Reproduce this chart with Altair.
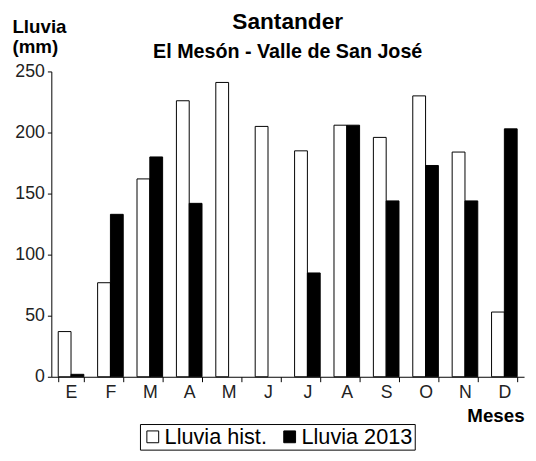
import altair as alt
import pandas as pd

month_labels = ["E", "F", "M", "A", "M", "J", "J", "A", "S", "O", "N", "D"]
series_names = ["Lluvia hist.", "Lluvia 2013"]
lluvia_hist = [37, 77, 162, 226, 241, 205, 185, 206, 196, 230, 184, 53]
lluvia_2013 = [2, 133, 180, 142, None, None, 85, 206, 144, 173, 144, 203]
y_ticks = [0, 50, 100, 150, 200, 250]

rows = []
for i in range(12):
    rows.append({"mes": i + 1, "serie": series_names[0], "valor": lluvia_hist[i]})
    rows.append({"mes": i + 1, "serie": series_names[1], "valor": lluvia_2013[i]})
df = pd.DataFrame(rows)
df = df.dropna()

label_expr = "[" + ",".join("'" + m + "'" for m in month_labels) + "][datum.value - 1]"

FONT = "Liberation Sans"

chart = alt.Chart(df).mark_bar(stroke="black", strokeWidth=1).encode(
    x=alt.X(
        "mes:O",
        scale=alt.Scale(paddingInner=0.35, paddingOuter=0.175),
        axis=alt.Axis(
            title="Meses",
            labelExpr=label_expr,
            labelAngle=0,
            tickBand="extent",
            tickSize=5,
            labelPadding=2,
            labelFontSize=18,
            titleFontSize=19,
            titleFontWeight="bold",
            titleAnchor="end",
            titleAlign="right",
            titleBaseline="alphabetic",
            titleX=480,
            titleY=45,
        ),
    ),
    xOffset=alt.XOffset("serie:N", sort=series_names, scale=alt.Scale(domain=series_names)),
    y=alt.Y(
        "valor:Q",
        scale=alt.Scale(domain=[0, 250], nice=False),
        axis=alt.Axis(
            values=y_ticks,
            title=["Lluvia", "(mm)"],
            titleAngle=0,
            titleAlign="left",
            titleBaseline="alphabetic",
            titleX=-40,
            titleY=-40,
            titleLineHeight=21,
            titleFontSize=19,
            titleFontWeight="bold",
            tickSize=4,
            labelPadding=3,
            labelFontSize=18,
            grid=False,
        ),
    ),
    fill=alt.Fill(
        "serie:N",
        sort=series_names,
        scale=alt.Scale(domain=series_names, range=["white", "black"]),
        legend=alt.Legend(
            title=None,
            orient="none",
            legendX=90,
            legendY=358,
            direction="horizontal",
            symbolType="square",
            symbolSize=144,
            symbolStrokeColor="black",
            symbolStrokeWidth=1,
            labelFontSize=22,
            labelOffset=1,
            columnPadding=12,
            padding=2,
            strokeColor="black",
            labelColor="black",
            labelFont=FONT,
        ),
    ),
).properties(
    width=480,
    height=310,
    autosize=alt.AutoSizeParams(type="none"),
    padding={"left": 44, "top": 61, "right": 4, "bottom": 75},
    title=alt.Title(
        "Santander",
        subtitle="El Mesón - Valle de San José",
        fontSize=23,
        subtitleFontSize=20,
        fontWeight="bold",
        subtitleFontWeight="bold",
        color="black",
        subtitleColor="black",
        font=FONT,
        subtitleFont=FONT,
        anchor="middle",
        offset=-45,
        subtitlePadding=8,
    ),
).configure_view(
    stroke=None
).configure_axis(
    grid=False,
    domainColor="black",
    tickColor="black",
    labelColor="#222222",
    titleColor="black",
    labelFont=FONT,
    titleFont=FONT,
    domainWidth=1,
    tickWidth=1,
)

chart.save("out.html", embed_options={"renderer": "svg", "actions": False})
